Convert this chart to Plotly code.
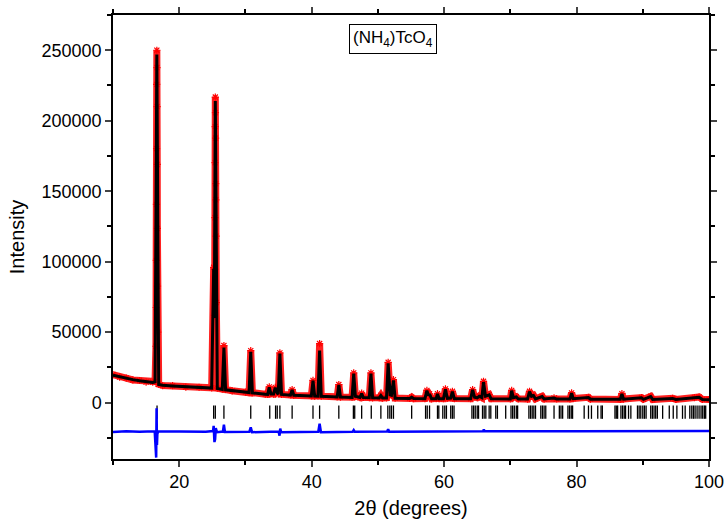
import plotly.graph_objects as go

# ---------------- data ----------------
# calculated profile (black line)
tt_calc = [10.0, 11.0, 12.0, 13.0, 14.0, 15.0, 16.0, 16.35, 16.62, 16.9, 17.5, 19.0, 21.0, 23.0,
           24.9, 25.2, 25.3, 25.45, 25.75, 26.5, 26.75, 27.0, 28.0, 30.0, 30.55, 30.8, 31.05,
           33.0, 33.35, 33.6, 33.85, 34.25, 34.5, 34.8, 34.95, 35.2, 35.45, 36.8, 37.05, 37.3,
           39.95, 40.2, 40.45, 40.95, 41.2, 41.45, 43.85, 44.1, 44.35, 46.1, 46.35, 46.6, 47.3,
           47.55, 47.8, 48.7, 48.95, 49.2, 50.2, 50.45, 50.7, 51.3, 51.55, 51.85, 52.05, 52.35,
           52.6, 54.8, 55.1, 55.4, 57.1, 57.4, 57.65, 57.8, 58.1, 58.8, 59.0, 59.25, 59.9, 60.2,
           60.5, 61.0, 61.25, 61.55, 64.0, 64.3, 64.6, 65.0, 65.3, 65.7, 65.95, 66.25, 66.8, 67.1,
           70.0, 70.2, 70.45, 70.9, 71.2, 72.6, 72.9, 73.2, 73.5, 73.8, 74.8, 75.1, 76.6, 77.0,
           79.0, 79.25, 79.5, 81.8, 82.1, 86.6, 86.85, 87.1, 89.8, 90.1, 91.2, 91.5, 94.5, 95.0,
           97.8, 98.5, 99.0, 100.0]
i_calc = [19500, 18300, 17200, 16300, 15500, 14800, 14300, 14800, 247000, 12800, 12300, 11800, 11200, 10700,
          10300, 95000, 60000, 214000, 10000, 9400, 39000, 9100, 8500, 7300, 7100, 36000, 6900,
          5900, 5800, 10800, 6200, 6200, 10600, 6800, 6000, 34800, 5800, 5300, 9000, 5200,
          4700, 15500, 4700, 4600, 37000, 4500, 4000, 12600, 4000, 3700, 20600, 4500, 3700,
          6500, 3600, 3500, 20600, 3500, 3300, 5000, 3300, 3300, 27800, 5500, 5200, 15800,
          3100, 2900, 3800, 2900, 2800, 8500, 5000, 6000, 2800, 2800, 6200, 2800, 2800, 9400,
          3000, 3200, 7800, 2800, 2700, 9000, 3800, 3400, 4500, 3500, 14600, 4500, 5500, 2700,
          2600, 8500, 3500, 4000, 2600, 2600, 7800, 4500, 5000, 2600, 4300, 2600, 3200, 2500,
          2500, 6700, 2800, 3600, 2400, 2400, 6200, 2400, 3500, 2300, 4300, 2300, 3000, 2200,
          3500, 3800, 2200, 2100]

# observed data (red asterisks)
tt_obs = [10.0, 11.0, 12.0, 13.0, 14.0, 15.0, 16.0, 16.35, 16.48, 16.52, 16.54, 16.56, 16.58, 16.6,
          16.62, 16.64, 16.66, 16.68, 16.7, 16.72, 16.76, 16.9, 17.5, 19.0, 21.0, 23.0,
          24.9, 25.2, 25.3, 25.36, 25.39, 25.41, 25.43, 25.45, 25.47, 25.49, 25.51, 25.53, 25.56,
          25.6, 25.75, 26.5, 26.75, 27.0, 28.0, 30.0, 30.55, 30.8, 31.05,
          33.0, 33.35, 33.6, 33.85, 34.25, 34.5, 34.8, 34.95, 35.2, 35.45, 36.8, 37.05, 37.3,
          39.95, 40.2, 40.45, 40.95, 41.2, 41.45, 43.85, 44.1, 44.35, 46.1, 46.35, 46.6, 47.3,
          47.55, 47.8, 48.7, 48.95, 49.2, 50.2, 50.45, 50.7, 51.3, 51.55, 51.85, 52.05, 52.35,
          52.6, 54.8, 55.1, 55.4, 57.1, 57.4, 57.65, 57.8, 58.1, 58.8, 59.0, 59.25, 59.9, 60.2,
          60.5, 61.0, 61.25, 61.55, 64.0, 64.3, 64.6, 65.0, 65.3, 65.7, 65.95, 66.25, 66.8, 67.1,
          70.0, 70.2, 70.45, 70.9, 71.2, 72.6, 72.9, 73.2, 73.5, 73.8, 74.8, 75.1, 76.6, 77.0,
          79.0, 79.25, 79.5, 81.8, 82.1, 86.6, 86.85, 87.1, 89.8, 90.1, 91.2, 91.5, 94.5, 95.0,
          97.8, 98.5, 99.0, 100.0]
i_obs = [19800, 18100, 17400, 16100, 15700, 14600, 14500, 15000, 40000, 67500, 100850, 140600, 180200, 225800,
         250000, 237700, 210000, 169000, 123600, 82600, 50000, 13000, 12100, 12000, 11000, 10900,
         10500, 96000, 62000, 94500, 131200, 170200, 195800, 216800, 205700, 187700, 155300, 143900, 118100,
         71000, 10200, 9600, 40500, 9300, 8400, 7500, 7000, 36900, 7100,
         6000, 5900, 11100, 6300, 6000, 10800, 7000, 6100, 35300, 5900, 5400, 9200, 5100,
         4800, 15800, 4600, 4700, 41900, 4600, 4100, 12800, 3900, 3800, 21100, 4600, 3600,
         6700, 3700, 3600, 21100, 3400, 3400, 5200, 3200, 3400, 28600, 5800, 5400, 16300,
         3200, 3000, 3900, 2800, 2900, 8700, 5300, 6300, 2700, 2900, 6400, 2900, 2800, 9700,
         3100, 3300, 8000, 2900, 2800, 9200, 4000, 3500, 4700, 3600, 15100, 4600, 5700, 2800,
         2700, 8700, 3600, 4200, 2700, 2500, 8000, 4600, 5200, 2700, 4500, 2500, 3300, 2600,
         2600, 6900, 2900, 3800, 2500, 2300, 6400, 2500, 3600, 2400, 4500, 2200, 3100, 2300,
         3600, 4000, 2300, 2200]

# difference curve (blue, offset)
tt_diff = [10.0, 12.0, 14.0, 16.3, 16.52, 16.58, 16.64, 16.7, 16.85, 20.0, 24.0, 25.1, 25.2, 25.32,
           25.42, 25.52, 25.7, 26.6, 26.75, 26.9, 30.6, 30.8, 31.0, 35.0, 35.15, 35.25, 35.4,
           41.0, 41.2, 41.4, 46.2, 46.35, 46.5, 51.4, 51.55, 51.7, 65.9, 66.0, 66.1, 80.0, 100.0]
i_diff = [-20800, -20300, -20600, -20400, -39000, -4000, -30000, -22000, -20500, -20500, -20700, -20200, -16500, -28000,
          -26000, -18000, -21000, -20500, -15700, -20800, -20600, -17500, -21000, -20500, -23500, -18500, -21000,
          -20700, -15000, -21000, -20600, -19500, -20600, -20500, -18800, -20600, -20400, -19000, -20400, -20300, -20200]

# reflection positions (black bars)
reflections = [16.65, 25.2, 25.45, 26.75, 30.8, 33.67, 34.55, 34.8, 35.2, 37.05, 40.2, 41.2, 44.1,
               46.3, 46.5, 47.55, 49.0, 50.45, 51.5, 51.8, 52.05, 52.35, 55.1, 57.2, 57.45, 57.8,
               59.0, 59.2, 59.8, 60.1, 60.35, 61.0, 61.25, 61.5, 64.2, 64.45, 64.7, 65.0, 65.2,
               65.8, 66.05, 66.3, 66.8, 67.05, 67.8, 68.05, 69.3, 70.1, 70.35, 70.6, 70.9, 71.1,
               72.8, 73.05, 73.3, 73.55, 73.8, 74.6, 74.85, 75.1, 75.35, 76.6, 77.4, 77.65, 77.9,
               78.7, 78.95, 79.2, 79.4, 81.15, 81.8, 82.25, 83.2, 83.7, 83.9, 85.8, 86.0, 86.2,
               86.7, 86.95, 87.2, 87.4, 87.85, 88.2, 89.2, 89.45, 89.7, 90.0, 90.25, 90.5, 91.2,
               91.45, 91.7, 91.95, 92.2, 93.0, 94.0, 94.6, 95.15, 96.0, 96.4, 97.1, 97.4, 97.65,
               97.9, 98.2, 98.5, 98.8, 99.05, 99.3, 99.5]
bar_top, bar_bottom = -2000, -11500

x_ticks = [20, 40, 60, 80, 100]
y_ticks = [0, 50000, 100000, 150000, 200000, 250000]

# ---------------- figure ----------------
bar_x, bar_y = [], []
for r in reflections:
    bar_x += [r, r, None]
    bar_y += [bar_top, bar_bottom, None]

fig = go.Figure()
fig.add_trace(go.Scatter(x=tt_obs, y=i_obs, mode="lines+markers", name="Observed",
                         line=dict(color="#ff2020", width=7),
                         marker=dict(symbol="asterisk-open", size=6, color="#ff0000",
                                     line=dict(color="#ff0000", width=1.2))))
fig.add_trace(go.Scatter(x=tt_calc, y=i_calc, mode="lines", name="Calculated",
                         line=dict(color="black", width=3)))
fig.add_trace(go.Scatter(x=bar_x, y=bar_y, mode="lines", name="Reflections",
                         line=dict(color="black", width=1.3)))
fig.add_trace(go.Scatter(x=tt_diff, y=i_diff, mode="lines", name="Difference",
                         line=dict(color="#0000ff", width=2.5)))

axis_font = dict(family="Liberation Sans, Arial, sans-serif", size=18, color="black")
title_font = dict(family="Liberation Sans, Arial, sans-serif", size=20, color="black")
fig.update_layout(
    width=725, height=523,
    margin=dict(l=113, r=16, t=15, b=64),
    paper_bgcolor="white", plot_bgcolor="white",
    showlegend=False,
    font=axis_font,
    xaxis=dict(range=[10, 100], tickvals=x_ticks, ticks="outside", ticklen=6, tickwidth=1.5,
               showline=True, linecolor="black", linewidth=1.5, mirror="ticks",
               showgrid=False, zeroline=False, tickfont=axis_font, automargin=False,
               ticklabeloverflow="allow",
               minor=dict(dtick=10, ticks="outside", ticklen=4, tickwidth=1.5, tickcolor="black"),
               title=dict(text="2θ (degrees)", font=title_font, standoff=10)),
    yaxis=dict(range=[-40000, 275000], tickvals=y_ticks, tickformat="d", ticks="outside",
               ticklen=6, tickwidth=1.5,
               showline=True, linecolor="black", linewidth=1.5, mirror="ticks",
               showgrid=False, zeroline=False, tickfont=axis_font, automargin=False,
               minor=dict(dtick=25000, ticks="outside", ticklen=4, tickwidth=1.5, tickcolor="black"),
               title=dict(text="Intensity", font=title_font, standoff=12)),
    annotations=[dict(text="(NH<sub>4</sub>)TcO<sub>4</sub>", xref="paper", yref="paper",
                      x=0.4706, y=0.947, xanchor="center", yanchor="middle", showarrow=False,
                      font=dict(family="Liberation Sans, Arial", size=17, color="black"),
                      bordercolor="black", borderwidth=1, borderpad=3, bgcolor="white")],
)

fig.write_html("out.html", config={"displayModeBar": False},
               post_script="document.body.style.margin='0';document.body.style.overflow='hidden';")
